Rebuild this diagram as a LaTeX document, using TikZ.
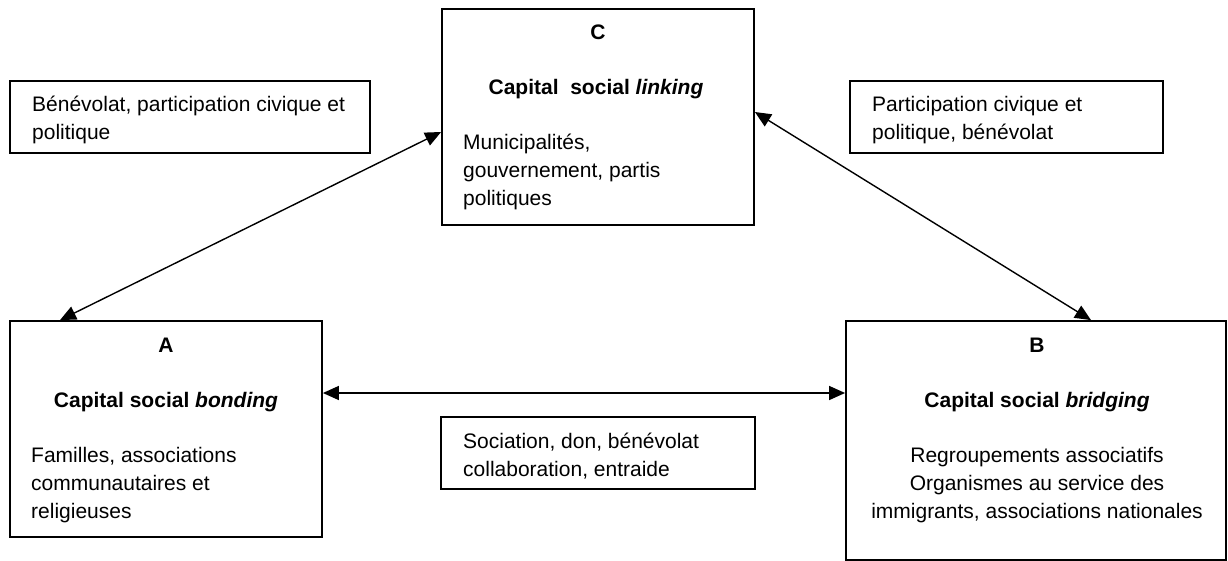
\documentclass[tikz,border=0pt]{standalone}
\usepackage{fontspec}
\setmainfont{Liberation Sans}
\usepackage{tikz}
\usetikzlibrary{arrows.meta}
\usetikzlibrary{positioning}
\tikzset{
    capbox/.style={
           rectangle,
           draw=black, line width=1.8pt,
           inner sep=0pt,
           },
}
\tikzset{
    txt/.style={
           inner sep=0pt,
           align=left,
           font=\fontsize{21}{28}\selectfont,
           },
}
\tikzset{
    ttl/.style={
           inner sep=0pt,
           font=\fontsize{21}{28}\selectfont\bfseries,
           },
}
\tikzset{
    link/.style={
           {Triangle[length=16pt,width=14pt]}-{Triangle[length=16pt,width=14pt]},
           line width=1.4pt,
           },
}
\begin{document}
\begin{tikzpicture}[x=1pt,y=-1pt]
\useasboundingbox (0,0) rectangle (1228,561);
% les trois capitaux
\node[capbox, minimum width=312pt, minimum height=216pt] (capA) at (166,429) {};
\node[capbox, minimum width=380pt, minimum height=239pt] (capB) at (1036,440.5) {};
\node[capbox, minimum width=312pt, minimum height=216pt] (capC) at (598,117) {};
% les liens
\node[capbox, minimum width=360pt, minimum height=72pt] (lienAC) at (190,117) {};
\node[capbox, minimum width=313pt, minimum height=72pt] (lienBC) at (1006.5,117) {};
\node[capbox, minimum width=314pt, minimum height=72pt] (lienAB) at (598,453) {};

\node[ttl, anchor=base] (titC) at (598,40) {C};
\node[ttl, anchor=base] (nomC) at (596,95) {Capital\ \ social \textit{linking}};
\node[txt, anchor=base west] (texC) at (463,206) {Municipalités,\\gouvernement, partis\\politiques};

\node[ttl, anchor=base] (titA) at (166,352) {A};
\node[ttl, anchor=base] (nomA) at (166,407) {Capital social \textit{bonding}};
\node[txt, anchor=base west] (texA) at (31,518) {Familles, associations\\communautaires et\\religieuses};

\node[ttl, anchor=base] (titB) at (1037,352) {B};
\node[ttl, anchor=base] (nomB) at (1037,407) {Capital social \textit{bridging}};
\node[txt, align=center, anchor=base] (texB) at (1037,518) {Regroupements associatifs\\Organismes au service des\\immigrants, associations nationales};

\node[txt, anchor=base west] (texAC) at (32,140) {Bénévolat, participation civique et\\politique};
\node[txt, anchor=base west] (texBC) at (872,140) {Participation civique et\\politique, bénévolat};
\node[txt, anchor=base west] (texAB) at (463,476) {Sociation, don, bénévolat\\collaboration, entraide};

\draw[link] ([xshift=-106pt]capA.north) -- ([yshift=-15pt]capC.west);
\draw[link] ([yshift=5pt]capC.east) -- ([xshift=55pt]capB.north);
\draw[link] ([yshift=36pt]capA.east) -- ([yshift=47.5pt]capB.west);
\end{tikzpicture}
\end{document}
